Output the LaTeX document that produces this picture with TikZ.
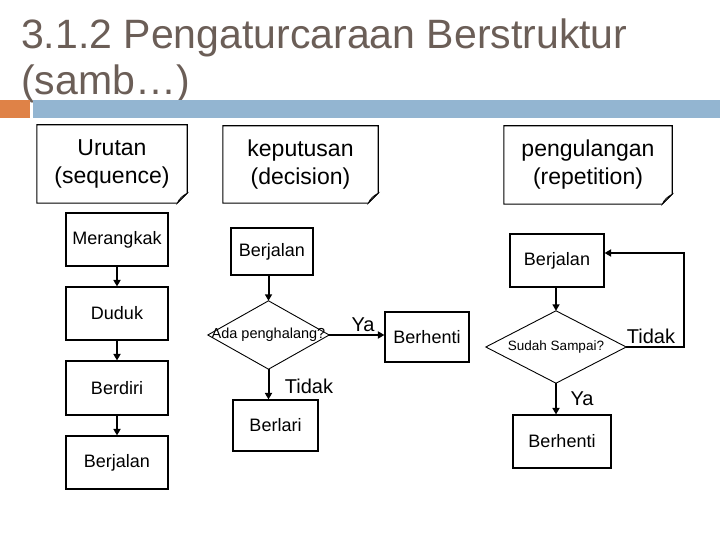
\documentclass[tikz,border=0pt]{standalone}
\usepackage{graphicx}
\usepackage{fontspec}
\setmainfont{Liberation Sans}
\usetikzlibrary{arrows.meta,calc}
\definecolor{titlecol}{HTML}{6B5E57}
\definecolor{barorange}{HTML}{DF8247}
\definecolor{barblue}{HTML}{93B5D1}
\definecolor{foldgray}{HTML}{B8B8B8}
\tikzset{
  notebox/.style={draw=none, inner sep=0pt, align=center, font=\fontsize{23bp}{28bp}\selectfont},
  stepbox/.style={draw, line width=1.1bp, inner sep=0pt, align=center, font=\fontsize{18bp}{21bp}\selectfont},
  decbox/.style={draw=none, inner sep=0pt, align=center},
  conn/.style={line width=2bp, -{Triangle[length=6.5bp,width=7bp]}},
  lbl/.style={inner sep=0pt, font=\fontsize{20bp}{24bp}\selectfont},
}
\newcommand\notefold[1]{%
  \draw[line width=1.1bp] (#1.north west) -- (#1.north east) -- ($(#1.south east)+(0,-10)$)
     -- ($(#1.south east)+(-10,0)$) -- (#1.south west) -- cycle;
  \filldraw[fill=foldgray, line width=0.6bp] ($(#1.south east)+(-10,0)$) -- ($(#1.south east)+(0,-10)$)
     .. controls ($(#1.south east)+(-4,-8)$) and ($(#1.south east)+(-8,-5)$) .. cycle;
}
\newcommand\diamondpath[1]{%
  \draw[line width=0.9bp] (#1.north) -- (#1.east) -- (#1.south) -- (#1.west) -- cycle;
}
\begin{document}
\begin{tikzpicture}[x=1bp,y=-1bp]
\useasboundingbox (0,0) rectangle (720,540);
% title
\node[anchor=base west, inner sep=0pt, text=titlecol, font=\fontsize{41bp}{47bp}\selectfont] (t1) at (21,49) {3.1.2 Pengaturcaraan Berstruktur};
\node[anchor=base west, inner sep=0pt, text=titlecol, font=\fontsize{41bp}{47bp}\selectfont] (t2) at (21,95) {(samb…)};
% bars
\fill[barorange] (0,100) rectangle (30,118);
\fill[barblue] (33,100) rectangle (720,118);
% header notes
\node[notebox, minimum width=150bp, minimum height=78bp] (h1) at (112,164) {Urutan\\(sequence)};
\node[notebox, minimum width=155bp, minimum height=77bp] (h2) at (300.5,164.5) {keputusan\\(decision)};
\node[notebox, minimum width=168bp, minimum height=78bp] (h3) at (588,165) {pengulangan\\(repetition)};
\notefold{h1}
\notefold{h2}
\notefold{h3}
% sequence
\node[stepbox, minimum width=102bp, minimum height=53bp] (m1) at (117,239.5) {Merangkak};
\node[stepbox, minimum width=102bp, minimum height=53bp] (m2) at (117,313.5) {Duduk};
\node[stepbox, minimum width=102bp, minimum height=54bp] (m3) at (117,388) {Berdiri};
\node[stepbox, minimum width=102bp, minimum height=53bp] (m4) at (117,462.5) {Berjalan};
\draw[conn] (m1) -- (m2);
\draw[conn] (m2) -- (m3);
\draw[conn] (m3) -- (m4);
% decision
\node[stepbox, minimum width=82bp, minimum height=47bp] (b1) at (272,251.5) {Berjalan};
\node[decbox, minimum width=121bp, minimum height=68bp, font=\fontsize{14.5bp}{17bp}\selectfont] (d1) at (268.5,335) {Ada penghalang?};
\diamondpath{d1}
\node[stepbox, minimum width=84bp, minimum height=50bp] (b2) at (427,337) {Berhenti};
\node[stepbox, minimum width=85bp, minimum height=51bp] (b3) at (275.5,425.5) {Berlari};
\draw[conn] (b1.south -| d1.north) -- (d1.north);
\draw[conn] (d1.east) -- (d1.east -| b2.west);
\draw[conn] (d1.south) -- (d1.south |- b3.north);
\node[lbl] (ya1) at (363,325) {Ya};
\node[lbl] (td1) at (309,386) {Tidak};
% repetition
\node[stepbox, minimum width=94bp, minimum height=53bp] (c1) at (557,260.5) {Berjalan};
\node[decbox, minimum width=140bp, minimum height=72bp, font=\fontsize{13.5bp}{16bp}\selectfont] (d2) at (556,347) {Sudah Sampai?};
\diamondpath{d2}
\node[stepbox, minimum width=98bp, minimum height=53bp] (c2) at (562,441.5) {Berhenti};
\coordinate (loopR) at (684,253);
\draw[conn] (c1.south -| d2.north) -- (d2.north);
\draw[conn] (d2.south) -- (d2.south |- c2.north);
\draw[conn] (d2.east) -| (loopR) -- (loopR -| c1.east);
\node[lbl] (td2) at (651,336) {Tidak};
\node[lbl] (ya2) at (582,399) {Ya};
\end{tikzpicture}
\end{document}
